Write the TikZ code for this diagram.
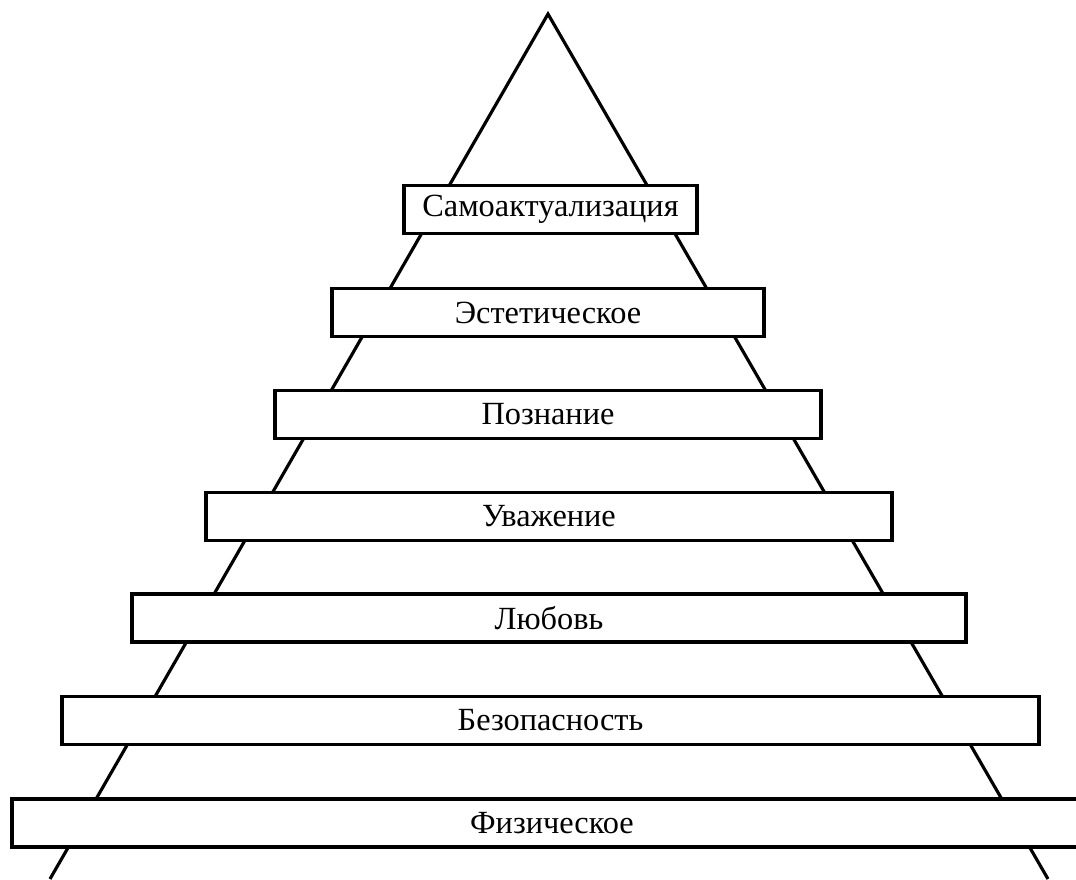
\documentclass[tikz,border=0pt]{standalone}
\usepackage{fontspec}
\setmainfont{Liberation Serif}
\begin{document}
\begin{tikzpicture}[line width=0.9pt,
  level/.style={draw, fill=white, inner sep=0pt, minimum height=0.48cm, font=\fontsize{9.2}{11}\selectfont}]
  \useasboundingbox (0,0) rectangle (10.76,8.79);
  % пирамида (низ уходит за край рисунка)
  \coordinate (apex) at (5.48,8.65);
  \coordinate (bl) at (0.50,0);
  \coordinate (br) at (10.48,0);
  \draw (bl) -- (apex) -- (br);
  % ступени снизу вверх
  \node[level, minimum width=10.80cm] (phys) at (5.52,0.56) {Физическое};
  \node[level, minimum width=9.77cm] (safe) at (5.505,1.585) {Безопасность};
  \node[level, minimum width=8.34cm] (love) at (5.49,2.61) {Любовь};
  \node[level, minimum width=6.86cm] (esteem) at (5.49,3.625) {Уважение};
  \node[level, minimum width=5.46cm] (cogn) at (5.48,4.645) {Познание};
  \node[level, minimum width=4.32cm] (aesth) at (5.48,5.665) {Эстетическое};
  \node[level, minimum width=2.93cm] (self) at (5.505,6.695) {Самоактуализация};
\end{tikzpicture}
\end{document}
